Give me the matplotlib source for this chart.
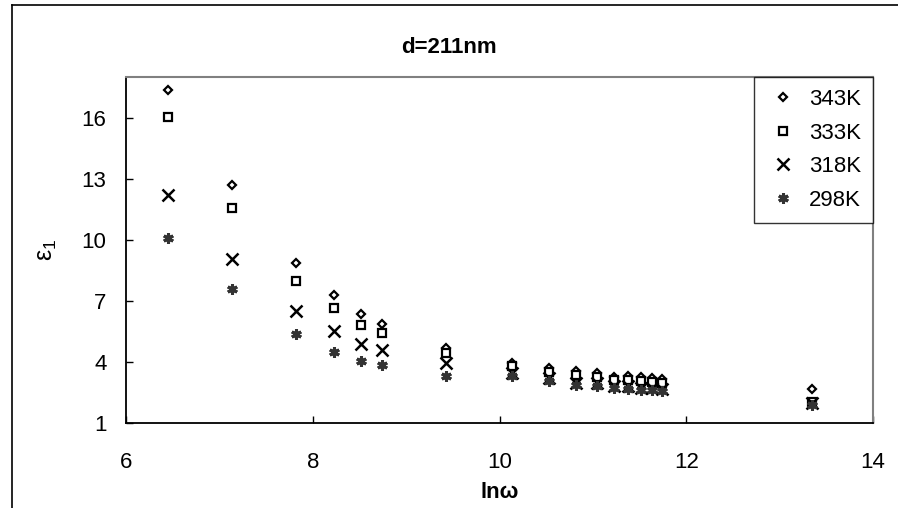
"""Dielectric constant vs ln(omega) scatter for a d=211nm film."""

import matplotlib

matplotlib.use("Agg")
import matplotlib.pyplot as plt
from matplotlib.lines import Line2D

plt.rcParams["font.family"] = ["Liberation Sans", "DejaVu Sans"]

# ln(omega) positions of the measurements
ln_omega = [6.45, 7.13, 7.82, 8.23, 8.52, 8.74, 9.43, 10.13, 10.53, 10.82,
            11.04, 11.23, 11.38, 11.51, 11.63, 11.74, 13.35]

eps_343 = [17.37, 12.67, 8.84, 7.28, 6.38, 5.86, 4.69, 3.95, 3.71, 3.57,
           3.45, 3.27, 3.32, 3.26, 3.21, 3.16, 2.67]
eps_333 = [16.05, 11.57, 7.97, 6.64, 5.84, 5.40, 4.44, 3.78, 3.50, 3.37,
           3.26, 3.10, 3.13, 3.05, 3.02, 2.97, 2.04]
eps_318 = [12.20, 9.07, 6.50, 5.51, 4.90, 4.61, 3.95, 3.47, 3.21, 2.98,
           2.97, 2.84, 2.80, 2.72, 2.72, 2.67, 1.98]
eps_298 = [10.08, 7.56, 5.35, 4.48, 4.04, 3.87, 3.29, 3.29, 3.05, 2.88,
           2.83, 2.72, 2.67, 2.60, 2.60, 2.55, 1.90]

labels = ["343K", "333K", "318K", "298K"]
x_ticks = [6, 8, 10, 12, 14]
y_ticks = [1, 4, 7, 10, 13, 16]

fig = plt.figure(figsize=(8.98, 5.08), dpi=100)
ax = fig.add_axes([0.1403, 0.1673, 0.8319, 0.6811])

ax.plot(ln_omega, eps_343, ls="none", marker="D", ms=4.2, mfc="white",
        mec="black", mew=1.6, label=labels[0])
ax.plot(ln_omega, eps_333, ls="none", marker="s", ms=5.2, mfc="white",
        mec="black", mew=1.6, label=labels[1])
ax.plot(ln_omega, eps_318, ls="none", marker="x", ms=8, mec="black",
        mew=1.8, label=labels[2])
ax.plot(ln_omega, eps_298, ls="none", marker=(6, 2, 0), ms=7.5, mec="#333333",
        mew=2.2, label=labels[3])

ax.set_xlim(6, 14)
ax.set_ylim(1, 18)
ax.set_xticks(x_ticks)
ax.set_yticks(y_ticks)
ax.tick_params(axis="both", direction="in", length=5, width=1, labelsize=16,
               colors="black")
ax.tick_params(axis="x", pad=21)
ax.tick_params(axis="y", pad=14)

for side in ["left", "bottom"]:
    ax.spines[side].set_color("black")
    ax.spines[side].set_linewidth(1.3)
for side in ["top", "right"]:
    ax.spines[side].set_color("#808080")
    ax.spines[side].set_linewidth(1.5)

ax.set_xlabel("lnω", fontsize=16, fontweight="bold")
ax.xaxis.set_label_coords(0.5, -0.17)
ax.set_ylabel(r"$\mathregular{ε_1}$", fontsize=18)
ax.yaxis.set_label_coords(-0.09, 0.5)

leg = ax.legend(loc="upper right", bbox_to_anchor=(1.0, 1.0), fontsize=16,
                frameon=True, fancybox=False, borderaxespad=0,
                handlelength=1.5, handletextpad=0.4, labelspacing=0.56,
                borderpad=0.55)
leg.get_frame().set_edgecolor("black")
leg.get_frame().set_linewidth(1.0)

fig.text(0.5, 1 - 47 / 508, "d=211nm", ha="center", va="center",
         fontsize=16, fontweight="bold")

# outer chart border (top and left edges visible in the original)
fig.add_artist(Line2D([12 / 898, 1], [1 - 5 / 508, 1 - 5 / 508],
                      transform=fig.transFigure, color="black", lw=1.2))
fig.add_artist(Line2D([12 / 898, 12 / 898], [0, 1 - 5 / 508],
                      transform=fig.transFigure, color="black", lw=1.2))

fig.savefig("out.png", dpi=100)
